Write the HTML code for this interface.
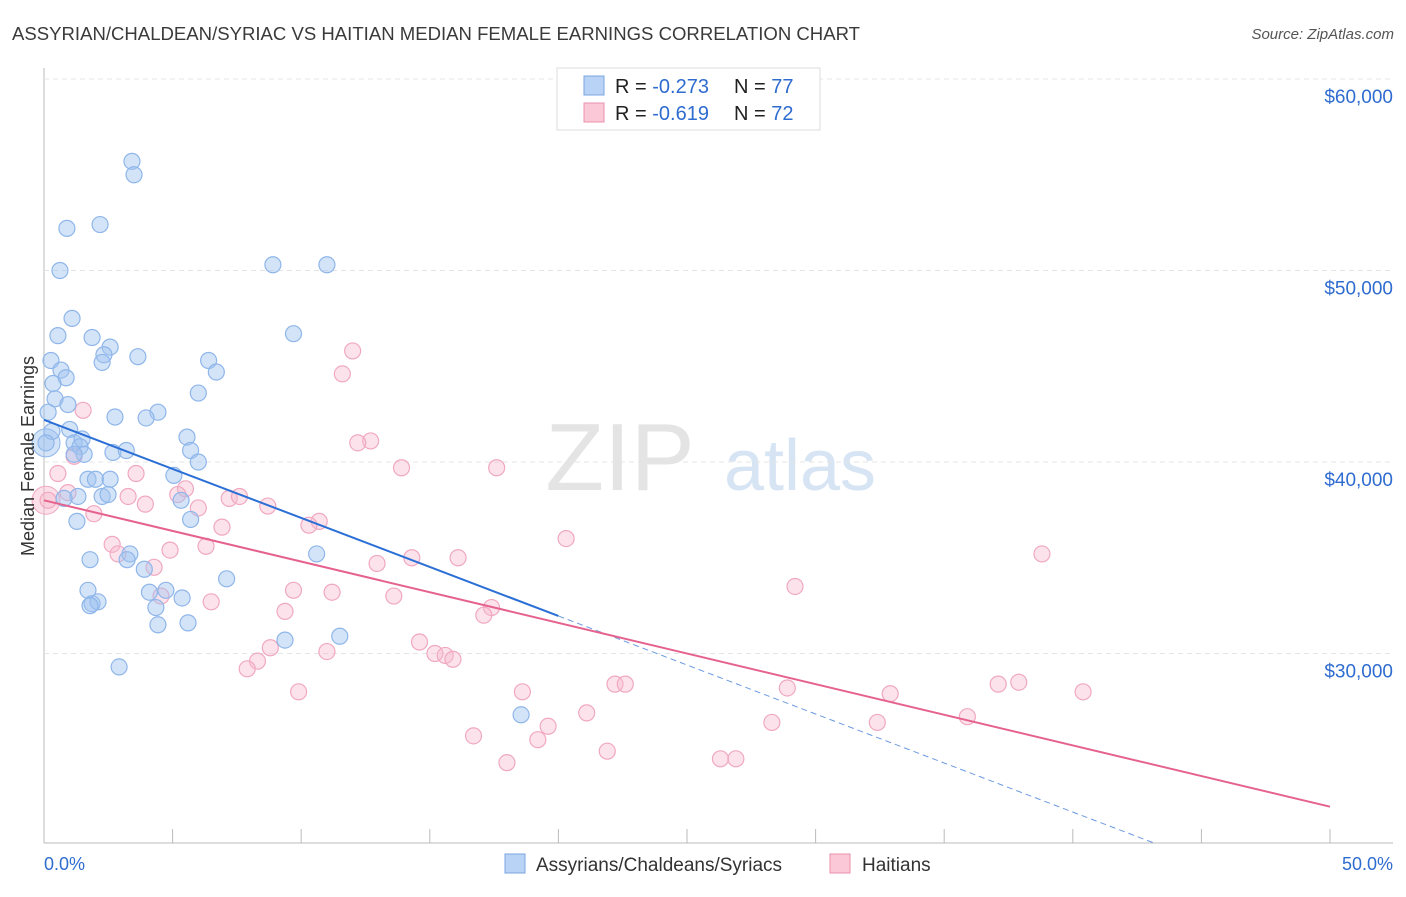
<!DOCTYPE html>
<html><head><meta charset="utf-8"><style>
body{margin:0;background:#fff;font-family:"Liberation Sans",sans-serif;}
svg text{font-family:"Liberation Sans",sans-serif;}
</style></head><body>
<svg id="chart" width="1406" height="892">
<text x="12" y="40" font-size="18" fill="#3a3a3a" textLength="848" lengthAdjust="spacingAndGlyphs">ASSYRIAN/CHALDEAN/SYRIAC VS HAITIAN MEDIAN FEMALE EARNINGS CORRELATION CHART</text>
<text x="1394" y="39" font-size="15" fill="#555" font-style="italic" text-anchor="end">Source: ZipAtlas.com</text>
<text x="620" y="490" font-size="96" fill="#e4e4e4" font-family="Liberation Serif" text-anchor="middle">ZIP</text>
<text x="800" y="490" font-size="72" fill="#d6e4f4" text-anchor="middle">atlas</text>
<g id="grid"></g><g id="marks"></g>
<text x="34" y="456" font-size="18" fill="#333" text-anchor="middle" transform="rotate(-90 34 456)">Median Female Earnings</text>
<g>
<rect x="557" y="68" width="263" height="62" fill="#fff" stroke="#ddd"/>
<rect x="584" y="76" width="20" height="19" fill="#b8d3f5" stroke="#7aa6e0"/>
<rect x="584" y="103" width="20" height="19" fill="#fbc8d8" stroke="#eb90ad"/>
<text x="615" y="93" font-size="20" fill="#222">R = <tspan fill="#2f6cd0">-0.273</tspan></text>
<text x="734" y="93" font-size="20" fill="#222">N = <tspan fill="#2f6cd0">77</tspan></text>
<text x="615" y="120" font-size="20" fill="#222">R = <tspan fill="#2f6cd0"> -0.619</tspan></text>
<text x="734" y="120" font-size="20" fill="#222">N = <tspan fill="#2f6cd0">72</tspan></text>
</g>
<g>
<rect x="505" y="854" width="20" height="19" fill="#b8d3f5" stroke="#7aa6e0"/>
<text x="536" y="871" font-size="19" fill="#333">Assyrians/Chaldeans/Syriacs</text>
<rect x="830" y="854" width="20" height="19" fill="#fbc8d8" stroke="#eb90ad"/>
<text x="862" y="871" font-size="19" fill="#333">Haitians</text>
</g>
<text x="44" y="870" font-size="18" fill="#2f6cd0">0.0%</text>
<text x="1393" y="870" font-size="18" fill="#2f6cd0" text-anchor="end">50.0%</text>
</svg>
<script>
const yTicks=[30000,40000,50000,60000];
const yTickLabels=["$30,000","$40,000","$50,000","$60,000"];
const blueX=[3.42,3.5,0.89,2.18,0.62,8.9,11.0,1.09,0.54,1.87,9.7,2.57,2.33,3.65,2.26,0.27,6.4,0.66,0.86,6.7,0.35,0.43,6.0,0.93,0.16,4.43,2.76,3.97,1.0,0.31,5.56,1.17,1.48,1.4,0.08,2.68,3.2,1.56,5.7,1.17,6.0,5.05,1.71,2.0,2.57,1.32,0.78,2.26,2.49,5.33,1.28,5.7,1.79,3.34,3.23,10.6,3.9,7.1,1.71,4.1,4.74,5.37,1.87,2.1,1.79,4.35,4.43,5.6,9.37,11.5,2.92,18.55];
const blueY=[55.7,55.0,52.2,52.4,50.0,50.3,50.3,47.5,46.6,46.5,46.7,46.0,45.6,45.5,45.2,45.3,45.3,44.8,44.4,44.7,44.1,43.3,43.6,43.0,42.6,42.6,42.35,42.3,41.7,41.6,41.3,41.0,41.2,40.8,41.0,40.5,40.6,40.4,40.6,40.4,40.0,39.3,39.1,39.1,39.1,38.2,38.1,38.2,38.3,38.0,36.9,37.0,34.9,35.2,34.9,35.2,34.4,33.9,33.3,33.2,33.3,32.9,32.6,32.7,32.5,32.4,31.5,31.6,30.7,30.9,29.3,26.8];
const pinkX=[12.0,11.6,1.52,12.7,12.2,13.9,17.6,0.54,3.58,1.17,5.5,5.2,7.2,7.6,3.27,0.93,0.16,3.94,6.0,8.7,1.94,10.7,10.3,6.92,20.3,2.65,6.3,4.9,2.88,14.3,16.1,38.8,4.28,12.95,29.2,9.7,11.2,13.6,4.55,6.5,17.4,9.37,17.1,14.6,8.8,11.0,15.2,15.6,15.9,8.3,7.9,22.2,22.6,9.9,18.6,28.9,32.9,37.1,37.9,40.4,21.1,19.6,28.3,32.4,35.9,16.7,19.2,21.9,18.0,26.3,26.9];
const pinkY=[45.8,44.6,42.7,41.1,41.0,39.7,39.7,39.4,39.4,40.3,38.6,38.3,38.1,38.2,38.2,38.4,38.0,37.8,37.6,37.7,37.3,36.9,36.7,36.6,36.0,35.7,35.6,35.4,35.2,35.0,35.0,35.2,34.5,34.7,33.5,33.3,33.2,33.0,33.0,32.7,32.4,32.2,32.0,30.6,30.3,30.1,30.0,29.9,29.7,29.6,29.2,28.4,28.4,28.0,28.0,28.2,27.9,28.4,28.5,28.0,26.9,26.2,26.4,26.4,26.7,25.7,25.5,24.9,24.3,24.5,24.5];
const blueTrend=[42.2,31.96];
const pinkTrend=[38.0,22.0];
const NS="http://www.w3.org/2000/svg";
const X=p=>44+p/50*1286;
const Y=v=>79+(60-v/1000)*19.15;
const Yk=k=>79+(60-k)*19.15;
function mk(tag,attrs,parent){const e=document.createElementNS(NS,tag);for(const k in attrs)e.setAttribute(k,attrs[k]);parent.appendChild(e);return e;}
const grid=document.getElementById('grid'),marks=document.getElementById('marks');
let ax=mk('line',{x1:44,y1:68,x2:44,y2:843,stroke:'#bbb'},grid);


let bx=mk('line',{x1:44,y1:843,x2:1393,y2:843,stroke:'#bbb'},grid);


for(let i=0;i<=10;i++){const t=mk('line',{x1:X(i*5),y1:829,x2:X(i*5),y2:843,stroke:'#bbb'},grid);

}
yTicks.forEach((v,i)=>{const g=mk('line',{x1:44,y1:Y(v),x2:1393,y2:Y(v),stroke:'#e4e4e4','stroke-dasharray':'5,4'},grid);


const t=mk('text',{x:1393,y:Y(v)+24,'font-size':19,fill:'#2f6cd0','text-anchor':'end'},grid);t.textContent=yTickLabels[i];

});
const big=mk('circle',{cx:46,cy:Y(41000),r:14,fill:'rgba(160,196,240,0.45)',stroke:'#8fb6ea'},marks);


const bigp=mk('circle',{cx:46,cy:Y(38000),r:14,fill:'rgba(248,185,205,0.45)',stroke:'#f0a8c0'},marks);


pinkX.forEach((p,i)=>{const c=mk('circle',{cx:X(p),cy:Yk(pinkY[i]),r:8,fill:'rgba(248,185,205,0.4)',stroke:'#f0a8c0','stroke-width':1.2},marks);

});
blueX.forEach((p,i)=>{const c=mk('circle',{cx:X(p),cy:Yk(blueY[i]),r:8,fill:'rgba(160,196,240,0.45)',stroke:'#8fb6ea','stroke-width':1.2},marks);

});
const slope=(blueTrend[1]-blueTrend[0])/20;
const xEnd=(20.1-blueTrend[0])/slope;
let d=mk('line',{x1:X(20),y1:Yk(blueTrend[1]),x2:X(xEnd),y2:Yk(20.1),stroke:'#6a9be0','stroke-width':1,'stroke-dasharray':'6,4'},marks);


let b=mk('line',{x1:X(0),y1:Yk(blueTrend[0]),x2:X(20),y2:Yk(blueTrend[1]),stroke:'#2b6fd6','stroke-width':2},marks);


let pl=mk('line',{x1:X(0),y1:Yk(pinkTrend[0]),x2:X(50),y2:Yk(pinkTrend[1]),stroke:'#e5628f','stroke-width':2},marks);


</script>
</body></html>
